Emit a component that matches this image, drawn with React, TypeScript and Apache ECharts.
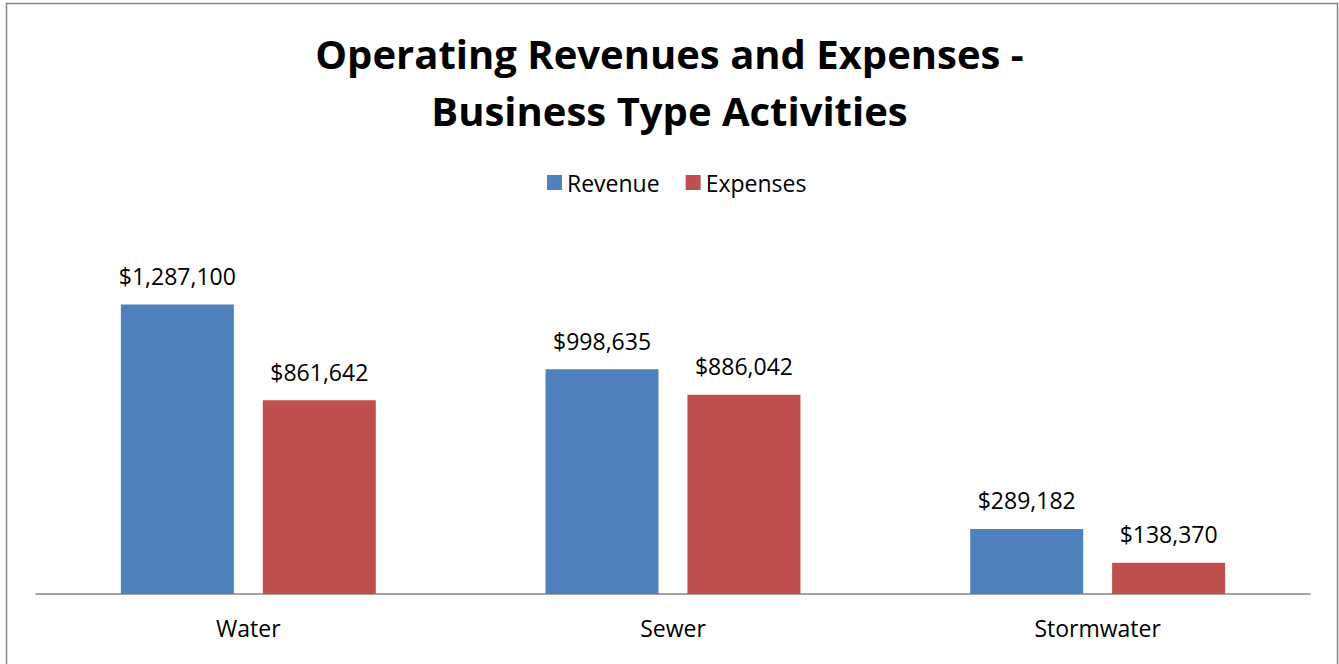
import React, { useEffect, useRef } from "react";
import * as echarts from "echarts";

const categories = ["Water", "Sewer", "Stormwater"];
const revenue = [1287100, 998635, 289182];
const expenses = [861642, 886042, 138370];
const seriesNames = ["Revenue", "Expenses"];
const titleLines = ["Operating Revenues and Expenses -", "Business Type Activities"];

const FONT = "'Open Sans', Carlito, Calibri, sans-serif";

function fmt(v: number): string {
  return "$" + v.toLocaleString("en-US");
}

export default function App() {
  const ref = useRef<HTMLDivElement>(null);
  useEffect(() => {
    if (!ref.current) return;
    const chart = echarts.init(ref.current, null, { renderer: "svg" });
    const label = {
      show: true,
      position: "top" as const,
      distance: 17,
      color: "#000",
      fontFamily: FONT,
      fontSize: 23,
      formatter: (p: any) => fmt(p.value),
    };
    chart.setOption({
      animation: false,
      backgroundColor: "#fff",
      title: {
        text: titleLines.join("\n"),
        left: "center",
        top: 20,
        textStyle: {
          fontFamily: FONT,
          fontWeight: "bold",
          fontSize: 40,
          lineHeight: 57,
          color: "#000",
        },
      },
      legend: {
        data: seriesNames,
        top: 166,
        left: 542,
        itemWidth: 15,
        itemHeight: 15,
        itemGap: 26,
        icon: "rect",
        textStyle: { fontFamily: FONT, fontSize: 23, color: "#000", padding: [0, 0, 0, 0] },
      },
      grid: { left: 36, right: 29, top: 279, bottom: 70, containLabel: false },
      xAxis: {
        type: "category",
        data: categories,
        axisLine: { show: true, lineStyle: { color: "#868686", width: 1.5 } },
        axisTick: { show: false },
        axisLabel: { color: "#000", fontFamily: FONT, fontSize: 23, margin: 22 },
      },
      yAxis: {
        type: "value",
        min: 0,
        max: 1400000,
        show: false,
        splitLine: { show: false },
      },
      series: [
        {
          name: seriesNames[0],
          type: "bar",
          data: revenue,
          barWidth: 113,
          barGap: "25.6%",
          itemStyle: { color: "#4F81BD" },
          label,
        },
        {
          name: seriesNames[1],
          type: "bar",
          data: expenses,
          barWidth: 113,
          barGap: "25.6%",
          itemStyle: { color: "#C0504D" },
          label,
        },
      ],
      graphic: [
        {
          type: "rect",
          shape: { x: 6.5, y: 3.5, width: 1331, height: 680 },
          style: { fill: "none", stroke: "#868686", lineWidth: 1.5 },
          silent: true,
        },
      ],
    });
    return () => chart.dispose();
  }, []);
  return (
    <div
      ref={ref}
      style={{ position: "fixed", left: 0, top: 0, width: 1339, height: 664 }}
    />
  );
}
